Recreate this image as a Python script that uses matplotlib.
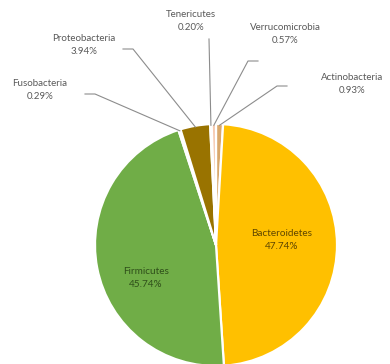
import numpy as np
import matplotlib.pyplot as plt

plt.rcParams['font.family'] = ['Lato', 'DejaVu Sans']

# phylum abundance, clockwise from 12 o'clock
phyla = ['Actinobacteria', 'Bacteroidetes', 'Firmicutes', 'Fusobacteria',
         'Proteobacteria', 'Tenericutes', 'Verrucomicrobia']
percent = [0.93, 47.74, 45.74, 0.29, 3.94, 0.20, 0.57]
colors = ['#D9A86C', '#FFC000', '#70AD47', '#E2EFDA', '#997300', '#FBE2D5', '#F6C9B0']

# label centre (x, y from top) and where the leader line leaves the label
outer = {
    'Actinobacteria': ((352, 84), (287, 86)),
    'Verrucomicrobia': ((285, 34), (258, 61)),
    'Tenericutes': ((191, 21), (209, 39)),
    'Proteobacteria': ((84, 45), (123, 49)),
    'Fusobacteria': ((40, 90), (85, 94)),
}
inner = {'Bacteroidetes': ((282, 240), '#5E4600'), 'Firmicutes': ((146, 278), '#2F4F1A')}

W, H = 390, 364
cx, cy, R = 216, 245, 121

fig = plt.figure(figsize=(W / 100, H / 100), dpi=100)
ax = fig.add_axes([0, 0, 1, 1])

wedges, _ = ax.pie(percent, colors=colors, startangle=90, counterclock=False,
                   center=(cx, H - cy), radius=R,
                   wedgeprops=dict(edgecolor='white', linewidth=1.6))
ax.set_xlim(0, W)
ax.set_ylim(0, H)
ax.set_aspect('equal')
ax.axis('off')

for w, name, p in zip(wedges, phyla, percent):
    txt = f'{name}\n{p:.2f}%'
    if name in outer:
        (tx, ty), (ex, ey) = outer[name]
        ang = np.deg2rad((w.theta1 + w.theta2) / 2)
        px = cx + 0.99 * R * np.cos(ang)
        py = H - cy + 0.99 * R * np.sin(ang)
        if name == 'Tenericutes':
            xs, ys = [ex, px], [H - ey, py]
        else:
            kx = ex + (10 if ex < cx else -10)
            xs, ys = [ex, kx, px], [H - ey, H - ey, py]
        ax.plot(xs, ys, color='#8C8C8C', lw=0.8)
        ax.text(tx, H - ty, txt, ha='center', va='center', fontsize=7,
                color='#595959', linespacing=1.5)
    else:
        (tx, ty), c = inner[name]
        ax.text(tx, H - ty, txt, ha='center', va='center', fontsize=7.2,
                color=c, linespacing=1.5)

fig.savefig('out.png', dpi=100)
